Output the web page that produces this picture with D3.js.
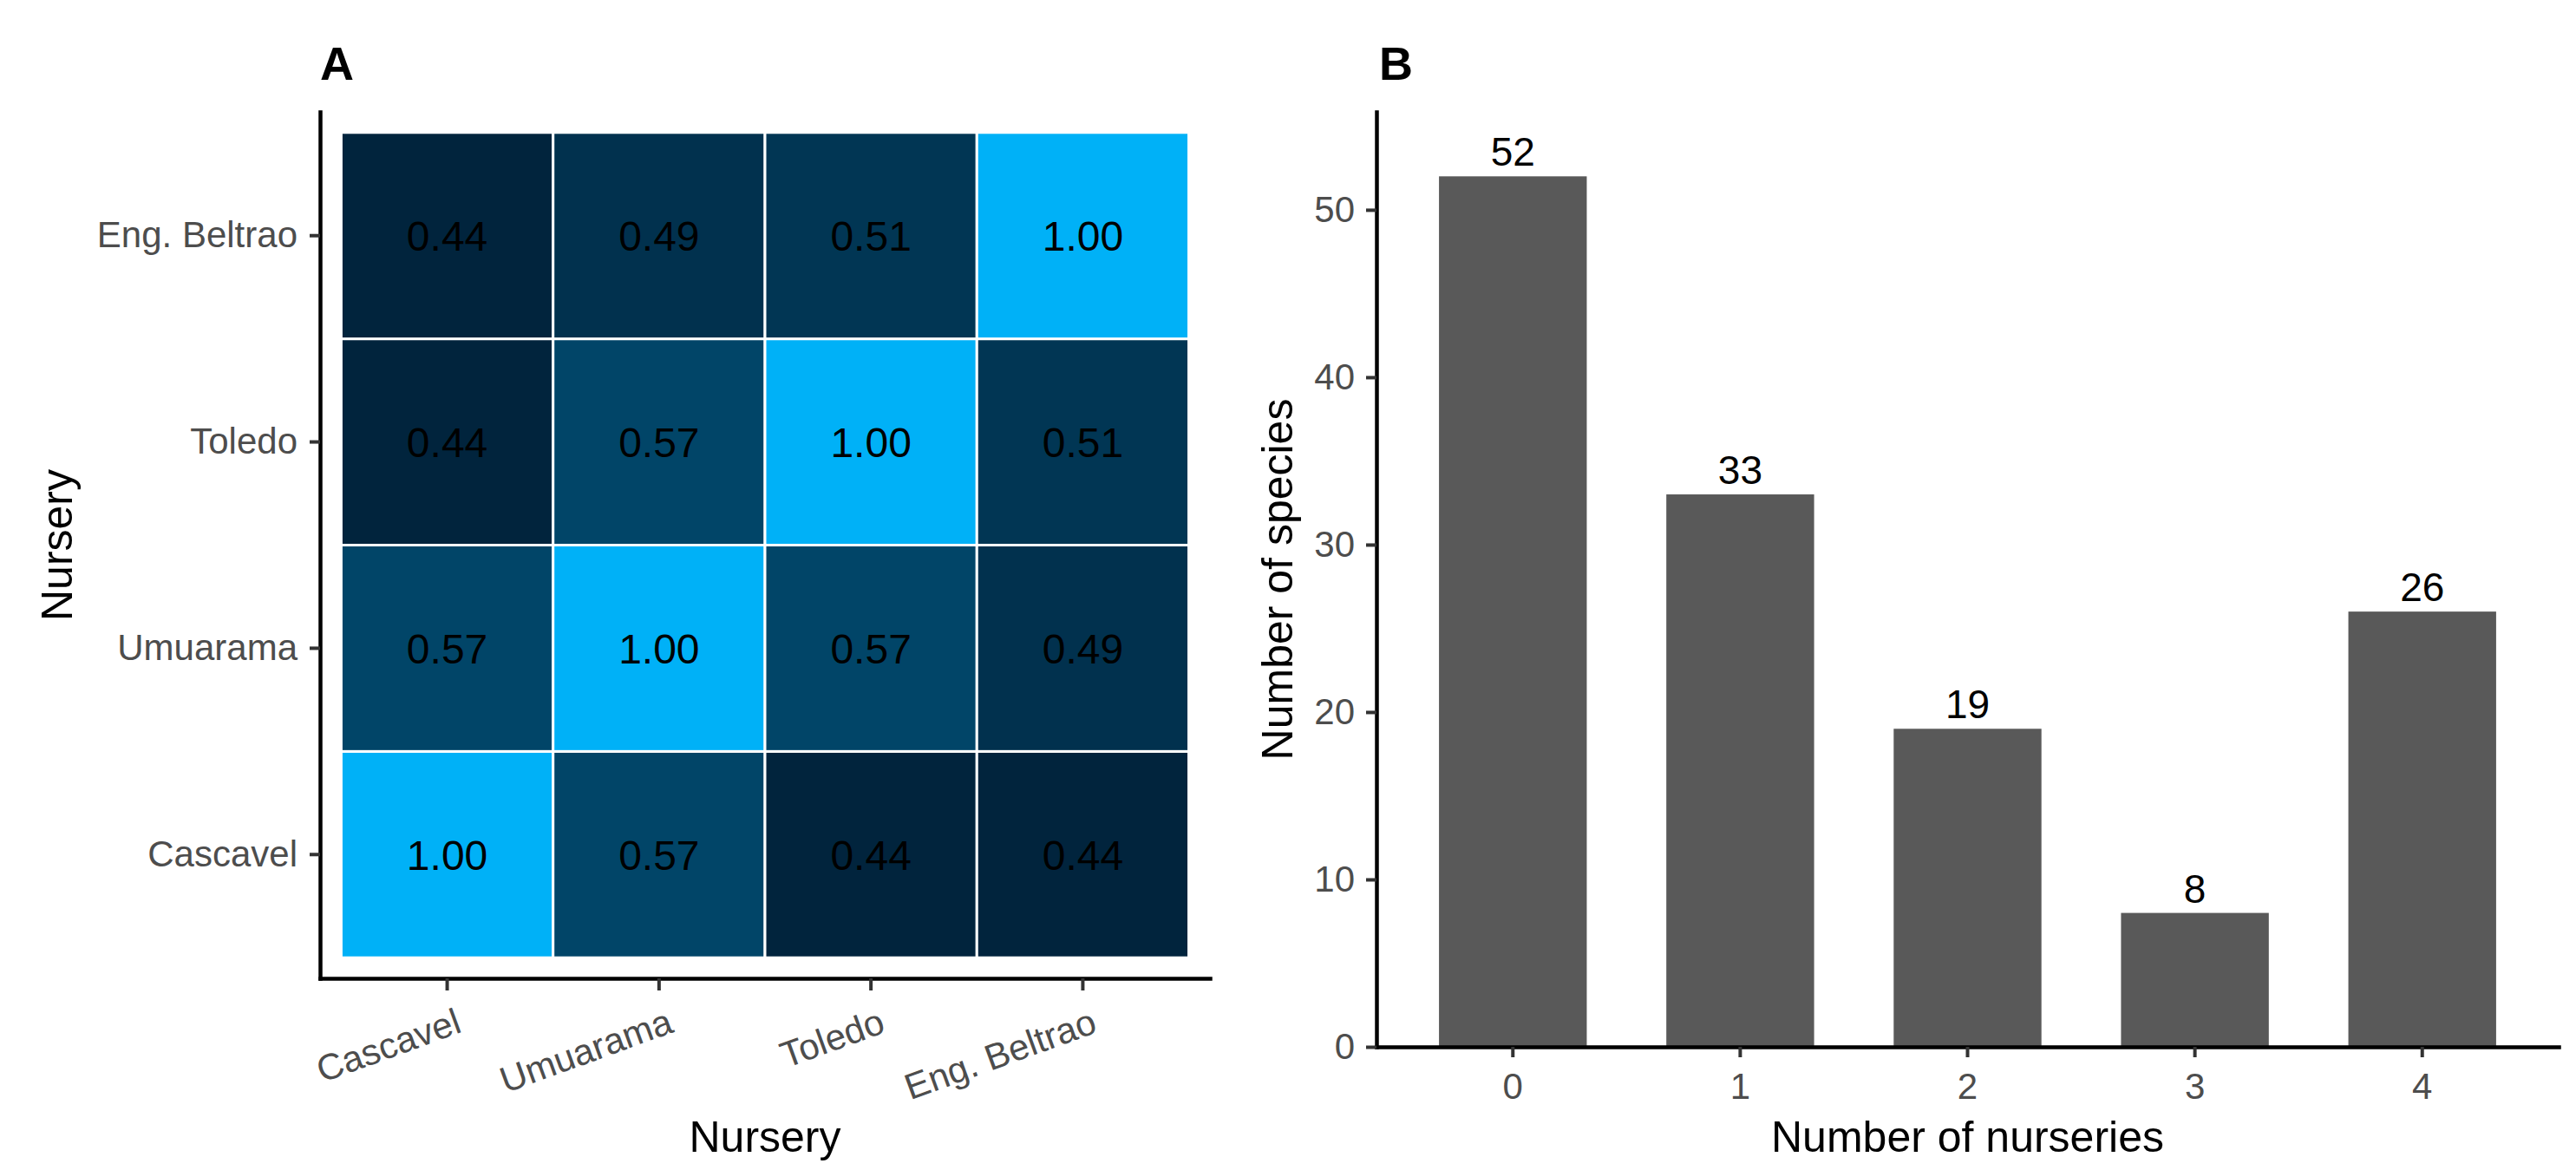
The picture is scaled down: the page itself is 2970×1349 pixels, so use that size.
<!DOCTYPE html>
<html lang="en">
<head>
    <meta charset="UTF-8">
    <style>
        html, body {
            margin:0;
            padding:0;
            background:#ffffff;
            overflow:hidden;
        }
        svg {
            display:block;
            font-family:"Liberation Sans", Arial, sans-serif;
        }
    </style>
    <script src="https://d3js.org/d3.v7.min.js"></script>
</head>
<body>
<script>
    // Panel A: Jaccard-like similarity between nurseries
    var nurseries = ["Cascavel", "Umuarama", "Toledo", "Eng. Beltrao"];
    var similarity = [
        [1.00, 0.57, 0.44, 0.44],   // Cascavel
        [0.57, 1.00, 0.57, 0.49],   // Umuarama
        [0.44, 0.57, 1.00, 0.51],   // Toledo
        [0.44, 0.49, 0.51, 1.00]    // Eng. Beltrao
    ];

    // Panel B: number of species shared by n nurseries
    var nurseryCounts = ["0", "1", "2", "3", "4"];
    var speciesCounts = [52, 33, 19, 8, 26];
    var speciesTicks = [0, 10, 20, 30, 40, 50];

    var W = 2970, H = 1349;
    var tickColor = "#4d4d4d";

    var svg = d3.select("body").append("svg")
        .attr("width", W)
        .attr("height", H);

    svg.append("rect").attr("width", W).attr("height", H).attr("fill", "#ffffff");

    function styleAxis(g) {
        g.attr("font-size", null).attr("font-family", null);
        g.select(".domain")
            .attr("stroke", "#000")
            .attr("stroke-width", 4.5)
            .attr("stroke-linecap", "square");
        g.selectAll(".tick line")
            .attr("stroke", "#333")
            .attr("stroke-width", 4);
        g.selectAll(".tick text")
            .attr("fill", tickColor)
            .style("font-size", "42px");
    }

    // ---------- heatmap ----------
    var hx = d3.scaleBand().domain(nurseries).range([369, 1395]).paddingInner(0).paddingOuter(0.1);
    var hy = d3.scaleBand().domain(nurseries).range([1128, 129]).paddingInner(0).paddingOuter(0.1);

    var fill = d3.scaleLinear()
        .domain([0.44, 1.00])
        .range(["#01243d", "#00b1f7"]);

    var cells = [];
    similarity.forEach(function(row, i) {
        row.forEach(function(v, j) {
            cells.push({row: nurseries[i], col: nurseries[j], value: v});
        });
    });

    var heat = svg.append("g");

    heat.selectAll(".cell")
        .data(cells)
        .enter().append("rect")
        .attr("class", "cell")
        .attr("x", function(d) { return hx(d.col); })
        .attr("y", function(d) { return hy(d.row); })
        .attr("width", hx.bandwidth())
        .attr("height", hy.bandwidth())
        .attr("fill", function(d) { return fill(d.value); })
        .attr("stroke", "#ffffff")
        .attr("stroke-width", 3);

    heat.selectAll(".cell-label")
        .data(cells)
        .enter().append("text")
        .attr("class", "cell-label")
        .attr("x", function(d) { return hx(d.col) + hx.bandwidth() / 2; })
        .attr("y", function(d) { return hy(d.row) + hy.bandwidth() / 2; })
        .attr("dy", "0.36em")
        .attr("text-anchor", "middle")
        .attr("fill", "#000")
        .style("font-size", "48px")
        .text(function(d) { return d.value.toFixed(2); });

    heat.append("g")
        .attr("transform", "translate(0,1128)")
        .call(d3.axisBottom(hx).tickSize(14).tickSizeOuter(0))
        .call(styleAxis)
        .selectAll(".tick text")
        .attr("text-anchor", "end")
        .attr("x", 8)
        .attr("y", 33)
        .attr("dy", "0.72em")
        .attr("transform", "rotate(-20,8,33)");

    heat.append("g")
        .attr("transform", "translate(369,0)")
        .call(d3.axisLeft(hy).tickSize(12).tickSizeOuter(0).tickPadding(14))
        .call(styleAxis);

    heat.append("text")
        .attr("x", (369 + 1395) / 2)
        .attr("y", 1328)
        .attr("text-anchor", "middle")
        .style("font-size", "50px")
        .text("Nursery");

    heat.append("text")
        .attr("transform", "translate(83," + (129 + 1128) / 2 + ") rotate(-90)")
        .attr("text-anchor", "middle")
        .style("font-size", "50px")
        .text("Nursery");

    heat.append("text")
        .attr("x", 369)
        .attr("y", 92)
        .attr("font-weight", "bold")
        .style("font-size", "54px")
        .text("A");

    // ---------- bar chart ----------
    var bx = d3.scaleBand().domain(nurseryCounts).range([1587, 2950]).paddingInner(0.35).paddingOuter(0.275);
    var by = d3.scaleLinear().domain([0, 55.85]).range([1207, 129]);

    var bars = svg.append("g");

    bars.selectAll(".bar")
        .data(speciesCounts)
        .enter().append("rect")
        .attr("class", "bar")
        .attr("x", function(d, i) { return bx(nurseryCounts[i]); })
        .attr("y", function(d) { return by(d); })
        .attr("width", bx.bandwidth())
        .attr("height", function(d) { return by(0) - by(d); })
        .attr("fill", "#595959");

    bars.selectAll(".bar-label")
        .data(speciesCounts)
        .enter().append("text")
        .attr("class", "bar-label")
        .attr("x", function(d, i) { return bx(nurseryCounts[i]) + bx.bandwidth() / 2; })
        .attr("y", function(d) { return by(d) - 12; })
        .attr("text-anchor", "middle")
        .attr("fill", "#000")
        .style("font-size", "46px")
        .text(function(d) { return d; });

    bars.append("g")
        .attr("transform", "translate(0,1207)")
        .call(d3.axisBottom(bx).tickSize(12).tickSizeOuter(0).tickPadding(18))
        .call(styleAxis);

    bars.append("g")
        .attr("transform", "translate(1587,0)")
        .call(d3.axisLeft(by).tickValues(speciesTicks).tickSize(12).tickSizeOuter(0).tickPadding(13))
        .call(styleAxis);

    bars.append("text")
        .attr("x", (1587 + 2950) / 2)
        .attr("y", 1328)
        .attr("text-anchor", "middle")
        .style("font-size", "50px")
        .text("Number of nurseries");

    bars.append("text")
        .attr("transform", "translate(1490," + (129 + 1207) / 2 + ") rotate(-90)")
        .attr("text-anchor", "middle")
        .style("font-size", "50px")
        .text("Number of species");

    bars.append("text")
        .attr("x", 1590)
        .attr("y", 92)
        .attr("font-weight", "bold")
        .style("font-size", "54px")
        .text("B");
</script>
</body>
</html>
